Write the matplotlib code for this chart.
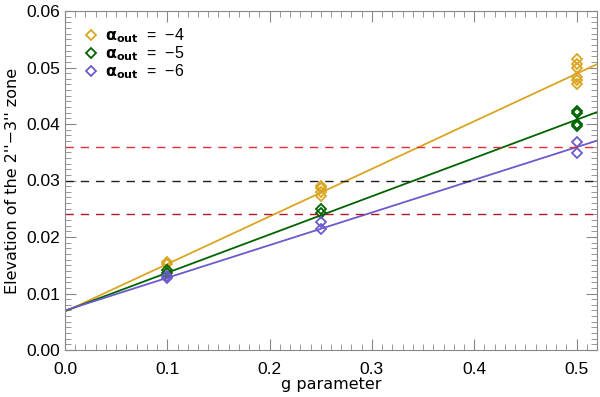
import numpy as np
import matplotlib
matplotlib.use("Agg")
import matplotlib.pyplot as plt
from matplotlib.ticker import MultipleLocator, FormatStrFormatter

plt.rcParams['font.family'] = ['Liberation Sans', 'DejaVu Sans']
plt.rcParams['mathtext.fontset'] = 'custom'
plt.rcParams['mathtext.rm'] = 'Liberation Sans'
plt.rcParams['mathtext.bf'] = 'DejaVu Sans:bold'

# data
labels = [r'$\mathbf{\alpha_{out}}$  =  −4', r'$\mathbf{\alpha_{out}}$  =  −5', r'$\mathbf{\alpha_{out}}$  =  −6']
colors = ['#DAA520', '#006400', '#6A5ACD']
g_a4 = [0.1, 0.1, 0.25, 0.25, 0.25, 0.25, 0.5, 0.5, 0.5, 0.5, 0.5, 0.5]
y_a4 = [0.0155, 0.0152, 0.0291, 0.0286, 0.0280, 0.0272, 0.0515, 0.0507, 0.0499, 0.0484, 0.0477, 0.0470]
g_a5 = [0.1, 0.1, 0.25, 0.25, 0.5, 0.5, 0.5, 0.5]
y_a5 = [0.0142, 0.0137, 0.0249, 0.0242, 0.0423, 0.0419, 0.0400, 0.0396]
g_a6 = [0.1, 0.1, 0.25, 0.25, 0.5, 0.5]
y_a6 = [0.0131, 0.0127, 0.0226, 0.0215, 0.0369, 0.0349]
intercepts = [0.0068, 0.0069, 0.0070]
slopes = [0.0842, 0.0677, 0.0578]
hline_vals = [0.036, 0.030, 0.024]
hline_colors = ['#e0303a', '#202020', '#b01830']

fig = plt.figure(figsize=(6.0, 3.97), dpi=100)
ax = fig.add_axes([65/600, 1-350/397, (597-65)/600, (350-11)/397])

xs = [g_a4, g_a5, g_a6]
ys = [y_a4, y_a5, y_a6]
xline = np.array([0.0, 0.52])
for gx, gy, c, lab, b, m in zip(xs, ys, colors, labels, intercepts, slopes):
    ax.plot(gx, gy, linestyle='none', marker='D', markersize=5, mfc='none', mec=c, mew=1.3, label=lab)
    ax.plot(xline, b + m * xline, color=c, lw=1.3)

for v, c in zip(hline_vals, hline_colors):
    ax.axhline(v, color=c, lw=1.0, ls=(0, (6, 5)))

ax.set_xlim(0, 0.52)
ax.set_ylim(0, 0.06)
ax.xaxis.set_major_locator(MultipleLocator(0.1))
ax.xaxis.set_minor_locator(MultipleLocator(0.01))
ax.yaxis.set_major_locator(MultipleLocator(0.01))
ax.yaxis.set_minor_locator(MultipleLocator(0.001))
ax.xaxis.set_major_formatter(FormatStrFormatter('%.1f'))
ax.yaxis.set_major_formatter(FormatStrFormatter('%.2f'))
ax.tick_params(which='both', direction='in', top=True, right=True, color='#888888', labelsize=12.5)
ax.tick_params(which='major', length=8, width=0.8)
ax.tick_params(which='minor', length=4, width=0.6)
ax.tick_params(axis='x', pad=9)
for s in ax.spines.values():
    s.set_color('#888888')
    s.set_linewidth(0.8)

ax.set_xlabel('g parameter', fontsize=11.5, family='DejaVu Sans')
ax.set_ylabel("Elevation of the 2''−3'' zone", fontsize=11.5, family='DejaVu Sans')
ax.xaxis.set_label_coords(0.5, -27/339, transform=ax.transAxes)
ax.yaxis.set_label_coords(-45/532, 0.5, transform=ax.transAxes)

leg = ax.legend(loc='upper left', bbox_to_anchor=(0.021, 0.973), frameon=False, fontsize=11.5,
                handlelength=1.0, handletextpad=0.4, labelspacing=-0.05, borderaxespad=0.0)

fig.savefig('out.png', dpi=100)
